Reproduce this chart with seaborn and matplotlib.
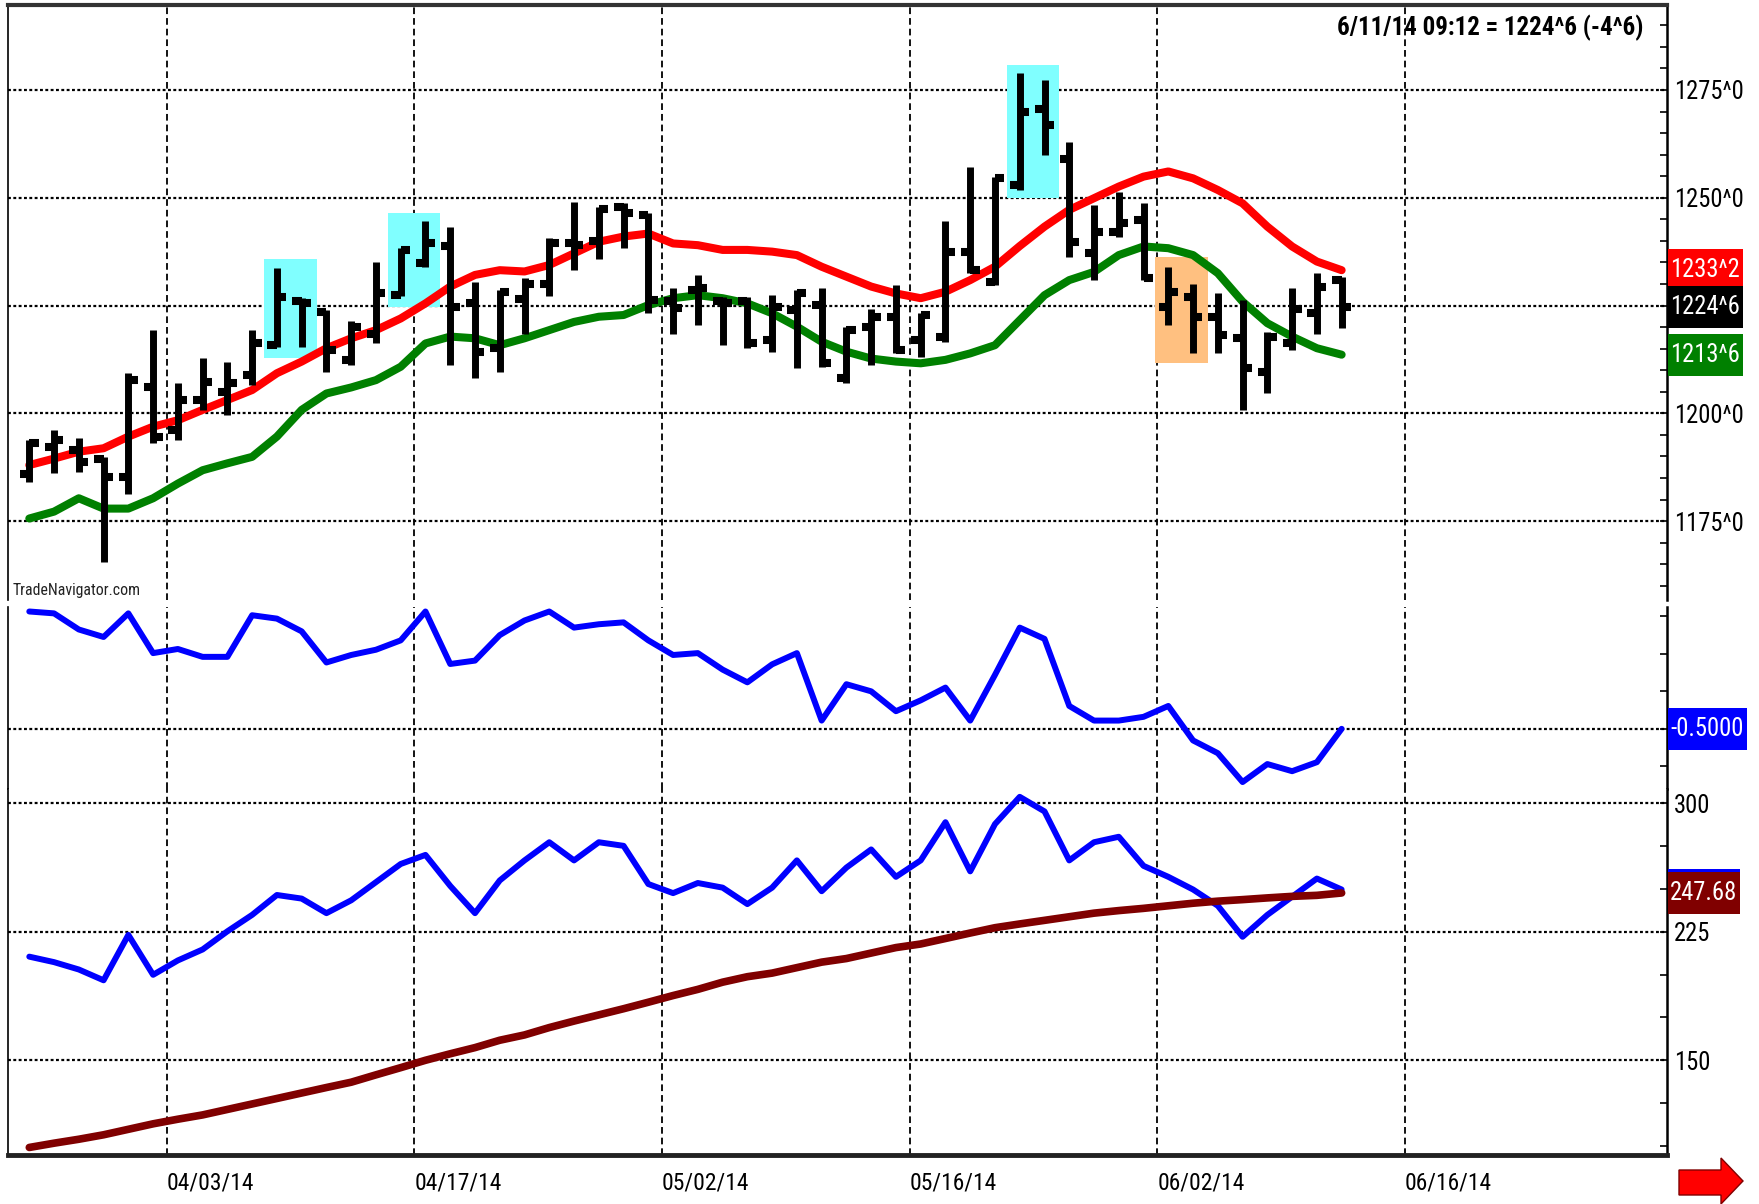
import numpy as np
import matplotlib.pyplot as plt
import seaborn as sns
from matplotlib import font_manager
from matplotlib.patches import Rectangle, Polygon

# daily bars 03/26/14 .. 06/11/14, x = trading day number
bar_open = [1185.9, 1192.2, 1191.5, 1189.5, 1185.3, 1206.2, 1196.1, 1203.1, 1205.0, 1208.9,
            1215.8, 1226.0, 1223.6, 1212.4, 1218.5, 1227.4, 1234.8, 1238.7, 1225.5, 1215.1,
            1226.5, 1230.1, 1239.5, 1240.0, 1247.9, 1246.0, 1226.0, 1228.5, 1226.0, 1226.0,
            1217.1, 1223.9, 1225.1, 1208.1, 1220.1, 1222.4, 1217.0, 1217.8, 1237.5, 1230.5,
            1253.0, 1270.7, 1259.1, 1237.1, 1242.1, 1244.8, 1224.7, 1227.0, 1222.4, 1217.4,
            1209.6, 1216.2, 1223.2, 1230.9]
bar_high = [1193.8, 1196.1, 1194.2, 1189.9, 1209.3, 1219.3, 1207.0, 1212.8, 1212.0, 1219.3,
            1233.6, 1226.7, 1224.0, 1221.3, 1235.2, 1238.3, 1244.5, 1243.3, 1230.5, 1228.6,
            1231.5, 1240.6, 1249.1, 1247.9, 1248.7, 1246.4, 1229.0, 1232.0, 1227.0, 1227.0,
            1227.4, 1228.6, 1229.0, 1220.1, 1224.3, 1229.8, 1223.2, 1244.5, 1257.2, 1254.9,
            1278.9, 1277.3, 1263.0, 1248.3, 1251.4, 1248.7, 1234.0, 1230.1, 1227.8, 1226.3,
            1218.9, 1229.0, 1232.5, 1231.7]
bar_low = [1184.1, 1186.1, 1186.4, 1165.6, 1181.4, 1193.0, 1193.8, 1200.8, 1199.6, 1206.6,
           1215.4, 1215.4, 1209.6, 1211.1, 1216.2, 1227.1, 1234.0, 1211.2, 1208.1, 1209.6,
           1218.5, 1227.1, 1233.2, 1235.9, 1238.3, 1223.2, 1218.5, 1220.5, 1215.8, 1215.1,
           1214.3, 1210.4, 1210.8, 1207.0, 1211.2, 1213.9, 1213.1, 1216.6, 1232.5, 1229.8,
           1251.8, 1259.9, 1236.3, 1230.9, 1241.0, 1230.9, 1220.5, 1213.9, 1213.9, 1200.8,
           1204.6, 1214.7, 1218.5, 1219.7]
bar_close = [1193.0, 1193.8, 1188.8, 1185.3, 1207.7, 1194.6, 1203.1, 1207.3, 1207.0, 1216.2,
             1227.0, 1225.5, 1214.7, 1220.0, 1227.8, 1237.9, 1239.4, 1224.7, 1214.3, 1228.2,
             1230.0, 1239.4, 1239.0, 1247.5, 1246.4, 1226.3, 1224.5, 1229.0, 1225.5, 1216.2,
             1224.7, 1227.8, 1211.6, 1219.3, 1222.4, 1214.7, 1222.8, 1237.5, 1233.2, 1254.5,
             1270.0, 1266.9, 1239.8, 1242.1, 1244.1, 1231.3, 1228.2, 1222.4, 1218.2, 1210.4,
             1217.8, 1224.3, 1229.2, 1224.6]

ma_red = [1188.0, 1189.5, 1191.1, 1191.9, 1194.6, 1196.9, 1198.4, 1200.8, 1203.1, 1205.4,
          1209.3, 1212.0, 1215.1, 1217.4, 1219.3, 1222.0, 1225.5, 1229.4, 1232.1, 1233.2,
          1232.9, 1234.4, 1237.1, 1239.8, 1241.0, 1241.7, 1239.4, 1239.0, 1237.9, 1237.9,
          1237.5, 1236.7, 1234.0, 1231.7, 1229.4, 1227.8, 1226.7, 1228.2, 1230.9, 1234.0,
          1238.8, 1243.3, 1247.2, 1249.9, 1252.6, 1254.9, 1256.1, 1254.5, 1251.8, 1248.7,
          1243.3, 1238.7, 1235.2, 1233.2]
ma_green = [1175.6, 1177.2, 1180.3, 1177.9, 1177.9, 1180.3, 1183.7, 1186.8, 1188.4, 1189.9,
            1194.6, 1200.8, 1204.6, 1206.0, 1207.7, 1210.8, 1216.2, 1217.8, 1217.4, 1215.8,
            1217.4, 1219.3, 1221.2, 1222.4, 1222.8, 1225.1, 1226.7, 1227.4, 1226.7, 1225.5,
            1223.2, 1220.1, 1216.6, 1214.3, 1212.7, 1212.0, 1211.6, 1212.4, 1213.9, 1215.8,
            1221.6, 1227.4, 1230.9, 1232.8, 1236.7, 1238.7, 1238.3, 1236.7, 1232.5, 1225.9,
            1220.9, 1217.8, 1215.1, 1213.6]

osc = [-0.187, -0.192, -0.235, -0.255, -0.192, -0.298, -0.287, -0.308, -0.308, -0.197,
       -0.206, -0.240, -0.323, -0.303, -0.289, -0.264, -0.187, -0.327, -0.318, -0.250,
       -0.211, -0.187, -0.230, -0.221, -0.216, -0.264, -0.303, -0.298, -0.342, -0.376,
       -0.328, -0.298, -0.478, -0.381, -0.400, -0.453, -0.424, -0.390, -0.478, -0.356,
       -0.230, -0.260, -0.439, -0.478, -0.478, -0.468, -0.439, -0.531, -0.565, -0.642,
       -0.594, -0.613, -0.589, -0.500]

ind_blue = [210.5, 207.3, 203.0, 196.7, 223.2, 199.9, 208.3, 214.7, 225.3, 234.9,
            246.5, 244.4, 235.9, 243.4, 254.0, 264.6, 269.9, 251.8, 235.9, 255.0,
            266.7, 277.3, 266.7, 277.3, 275.2, 252.9, 247.6, 253.5, 250.8, 241.2,
            250.8, 266.7, 248.7, 262.5, 273.1, 257.1, 266.7, 289.0, 260.3, 287.9,
            303.8, 295.3, 266.7, 277.3, 280.5, 263.5, 257.1, 249.7, 240.2, 222.1,
            234.9, 245.5, 256.1, 249.7]
ind_avg = [99.1, 101.6, 103.9, 106.5, 109.7, 112.9, 115.6, 118.1, 121.3, 124.5,
           127.7, 130.9, 134.1, 137.2, 141.5, 145.7, 150.0, 153.8, 157.4, 161.7,
           164.8, 169.1, 172.9, 176.5, 180.1, 183.9, 187.8, 191.4, 195.6, 198.8,
           200.9, 204.1, 207.3, 209.4, 212.6, 215.8, 217.9, 221.1, 224.3, 227.4,
           229.6, 231.7, 233.8, 235.9, 237.4, 238.7, 240.2, 241.7, 242.9, 243.8,
           244.8, 245.7, 246.3, 247.68]

date_bars = [6, 16, 26, 36, 46, 56]
date_labels = ['04/03/14', '04/17/14', '05/02/14', '05/16/14', '06/02/14', '06/16/14']
price_ticks = [1175, 1200, 1225, 1250, 1275]
price_labels = ['1175^0', '1200^0', '', '1250^0', '1275^0']   # 1225 sits under the close box
ind_ticks = [150, 225, 300]
title = '6/11/14 09:12 = 1224^6 (-4^6)'

# highlighted bar pairs: first bar, last bar, low, high, colour
zones = [(10, 11, 1212.8, 1235.8, '#80ffff'),
         (15, 16, 1224.7, 1246.4, '#80ffff'),
         (40, 41, 1249.9, 1280.8, '#80ffff'),
         (46, 47, 1211.7, 1236.3, '#ffc080')]

bars = np.arange(len(bar_close))

sns.set_style('white')
names = {f.name for f in font_manager.fontManager.ttflist}
narrow_pref = ['Liberation Sans Narrow', 'Arial Narrow', 'Roboto Condensed',
               'Noto Sans Condensed', 'DejaVu Sans Condensed', 'Open Sans Condensed']
main_font = next((n for n in narrow_pref if n in names), 'DejaVu Sans')
plt.rcParams['font.family'] = [main_font, 'DejaVu Sans']

W, H = 1759, 1204
fig = plt.figure(figsize=(W / 100, H / 100), dpi=100)
renderer = fig.canvas.get_renderer()


def text_width(text, size, weight='normal'):
    t = fig.text(0, 0, text, fontsize=size, fontweight=weight)
    w = t.get_window_extent(renderer=renderer).width
    t.remove()
    return w


def fit_size(text, width_px, weight='normal'):
    # font size that gives the text the width it has in the reference
    return 20 * width_px / text_width(text, 20, weight)


fs = fit_size('1275^0', 70)
fs_title = fit_size(title, 307, 'bold')
fs_date = fit_size('04/03/14', 87)
fs_brand = fit_size('TradeNavigator.com', 128)


def frame(top_px, bottom_px):
    return [8 / W, 1 - bottom_px / H, (1667 - 8) / W, (bottom_px - top_px) / H]


ax1 = fig.add_axes(frame(4.6, 600))
ax2 = fig.add_axes(frame(607, 788.8))
ax3 = fig.add_axes(frame(788.8, 1155))

grid_x = [b - 0.45 for b in date_bars]
dots = (0, (1.3, 1.1))
for ax in (ax1, ax2, ax3):
    ax.set_xlim(-0.86, 66.14)
    for gx in grid_x:
        ax.axvline(gx, color='black', lw=1.3, ls=(0, (3.7, 2.2)), zorder=0)
    for s in ax.spines.values():
        s.set_visible(False)
    ax.spines['left'].set_visible(True)
    ax.spines['left'].set_linewidth(1.2)
    ax.spines['left'].set_color('black')
    ax.spines['right'].set_visible(True)
    ax.spines['right'].set_linewidth(1.8)
    ax.spines['right'].set_color('black')
    ax.yaxis.tick_right()
    ax.tick_params(axis='y', which='both', direction='in', length=4.7, width=1.2,
                   pad=5, labelsize=fs, right=True, left=False, colors='black')

ax1.spines['top'].set_visible(True)
ax1.spines['top'].set_linewidth(3)
ax1.spines['top'].set_color('#333333')
ax3.spines['bottom'].set_visible(True)
ax3.spines['bottom'].set_linewidth(3.5)
ax3.spines['bottom'].set_color('#222222')


def value_box(ax, y, text, color, z):
    # last-value marker on the right scale, 42 px tall, at least 70 px wide
    lo, hi = ax.get_ylim()
    per_px = (hi - lo) / (ax.get_position().height * H)
    ax_w = ax.get_position().width * W
    box_w = max(70, text_width(text, fs) + 5)
    tr = ax.get_yaxis_transform()
    ax.add_patch(Rectangle((1.0007, y - 21 * per_px), box_w / ax_w, 42 * per_px,
                           transform=tr, fc=color, ec='none', zorder=z, clip_on=False))
    ax.text(1.0007 + 2 / ax_w, y, text, transform=tr, ha='left', va='center',
            color='white', fontsize=fs, zorder=z + 0.1, clip_on=False)


# ---- price panel
ax1.set_ylim(1156.7, 1294.8)
for v in price_ticks:
    ax1.axhline(v, color='black', lw=1.6, ls=dots, zorder=0)
for b0, b1, lo, hi, c in zones:
    ax1.add_patch(Rectangle((b0 - 0.52, lo), b1 - b0 + 1.12, hi - lo, fc=c, ec='none', zorder=1))
sns.lineplot(x=bars, y=ma_red, ax=ax1, color='#ff0000', lw=5.8, zorder=3,
             solid_capstyle='round', legend=False)
sns.lineplot(x=bars, y=ma_green, ax=ax1, color='#008000', lw=5.8, zorder=3,
             solid_capstyle='round', legend=False)
ax1.vlines(bars, bar_low, bar_high, color='black', lw=5, zorder=4, capstyle='butt')
ax1.hlines(bar_open, bars - 0.38, bars, color='black', lw=5.8, zorder=4, capstyle='butt')
ax1.hlines(bar_close, bars, bars + 0.38, color='black', lw=5.8, zorder=4, capstyle='butt')
ax1.set_yticks(price_ticks, price_labels)
ax1.set_yticks(np.arange(1160, 1295, 5), minor=True)
ax1.set_xticks([])
ax1.set_xlabel('')
ax1.set_ylabel('')
ax1.text(0.0028, 0.004, 'TradeNavigator.com', transform=ax1.transAxes, ha='left',
         va='bottom', fontsize=fs_brand, color='#222222')
ax1.text(0.9855, 0.9607, title, transform=ax1.transAxes,
         ha='right', va='center', fontsize=fs_title, fontweight='bold', color='black')
value_box(ax1, ma_red[-1], f'{ma_red[-1]:.1f}'.replace('.', '^'), '#ff0000', 6)
value_box(ax1, ma_green[-1], f'{ma_green[-1]:.1f}'.replace('.', '^'), '#008000', 6)
value_box(ax1, bar_close[-1], f'{bar_close[-1]:.1f}'.replace('.', '^'), '#000000', 7)

# ---- oscillator panel
ax2.set_ylim(-0.66, -0.175)
ax2.axhline(-0.5, color='black', lw=1.6, ls=dots, zorder=0)
sns.lineplot(x=bars, y=osc, ax=ax2, color='#0000ff', lw=4.3, zorder=3, legend=False)
ax2.set_yticks([-0.6, -0.5, -0.4, -0.3, -0.2], [''] * 5)
ax2.set_xticks([])
ax2.set_xlabel('')
ax2.set_ylabel('')
value_box(ax2, osc[-1], f'{osc[-1]:.4f}', '#0000ff', 6)

# ---- indicator panel
ax3.set_ylim(94.7, 308.5)
for v in ind_ticks:
    ax3.axhline(v, color='black', lw=1.6, ls=dots, zorder=0)
sns.lineplot(x=bars, y=ind_blue, ax=ax3, color='#0000ff', lw=4.3, zorder=3, legend=False)
sns.lineplot(x=bars, y=ind_avg, ax=ax3, color='#800000', lw=5.5, zorder=4,
             solid_capstyle='round', legend=False)
ax3.set_yticks(ind_ticks, [str(v) for v in ind_ticks])
ax3.set_yticks([100, 125, 175, 200, 250, 275], minor=True)
ax3.set_xticks(grid_x, date_labels)
for lab in ax3.get_xticklabels():
    lab.set_ha('left')
ax3.tick_params(axis='x', length=0, pad=12, labelsize=fs_date, colors='black')
ax3.set_xlabel('')
ax3.set_ylabel('')
value_box(ax3, ind_blue[-1], f'{ind_blue[-1]:.2f}', '#0000ff', 5)
value_box(ax3, ind_avg[-1], f'{ind_avg[-1]:.2f}', '#800000', 6)

# scroll arrow, bottom right (pixel coordinates)
arrow_px = [(1679, 1170), (1721, 1170), (1721, 1158), (1743, 1181),
            (1721, 1204), (1721, 1195), (1679, 1195)]
fig.add_artist(Polygon([(x / 100, (H - y) / 100) for x, y in arrow_px], closed=True,
                       fc='#ff0000', ec='#800000', lw=1, transform=fig.dpi_scale_trans))

fig.savefig('out.png', dpi=100, facecolor='white')
